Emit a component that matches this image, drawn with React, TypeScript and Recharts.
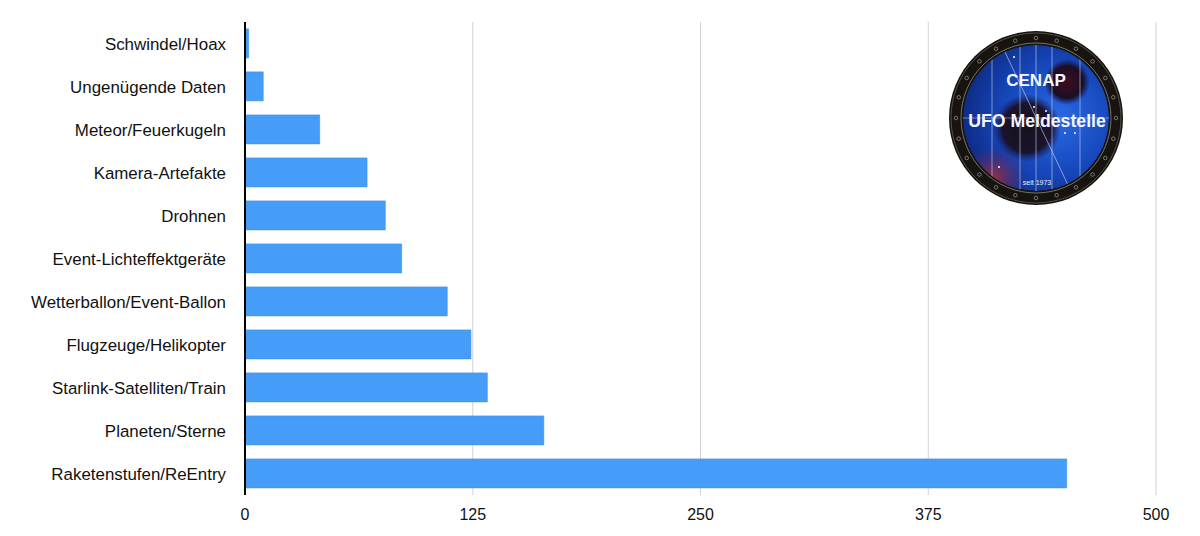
import { BarChart, Bar, XAxis, YAxis, CartesianGrid } from 'recharts';

const categories = [
  'Schwindel/Hoax',
  'Ungenügende Daten',
  'Meteor/Feuerkugeln',
  'Kamera-Artefakte',
  'Drohnen',
  'Event-Lichteffektgeräte',
  'Wetterballon/Event-Ballon',
  'Flugzeuge/Helikopter',
  'Starlink-Satelliten/Train',
  'Planeten/Sterne',
  'Raketenstufen/ReEntry',
];
const reports = [2, 10, 41, 67, 77, 86, 111, 124, 133, 164, 451];
const ticks = [0, 125, 250, 375, 500];

const data = categories.map((name, i) => ({ name, reports: reports[i] }));

const FONT = '"Liberation Sans", Arial, sans-serif';

// decorative badge, top right of the plot
function Logo() {
  const holes = Array.from({ length: 24 }, (_, i) => (i * Math.PI) / 12);
  const stars = [[-22, -61], [-2, -11], [10, -7], [29, 15], [39, 15], [-37, 49]];
  const gridLines = [-44, -16, 0, 16, 44];
  return (
    <svg width={190} height={190} viewBox="-95 -95 190 190" style={{ position: 'absolute', left: 941, top: 23 }}>
      <defs>
        <radialGradient id="sky" cx="65%" cy="50%" r="72%">
          <stop offset="0%" stopColor="#2a6ae6" />
          <stop offset="55%" stopColor="#1545b8" />
          <stop offset="100%" stopColor="#0c2578" />
        </radialGradient>
        <radialGradient id="planetA" cx="50%" cy="50%" r="50%">
          <stop offset="0%" stopColor="#16101c" />
          <stop offset="72%" stopColor="#1a1024" stopOpacity={0.95} />
          <stop offset="100%" stopColor="#1a1a5c" stopOpacity={0} />
        </radialGradient>
        <radialGradient id="planetB" cx="50%" cy="50%" r="50%">
          <stop offset="0%" stopColor="#3a1020" />
          <stop offset="70%" stopColor="#1c0e24" />
          <stop offset="100%" stopColor="#1c0e44" stopOpacity={0} />
        </radialGradient>
        <radialGradient id="glow" cx="50%" cy="50%" r="50%">
          <stop offset="0%" stopColor="#a8303c" stopOpacity={0.85} />
          <stop offset="100%" stopColor="#7a1f50" stopOpacity={0} />
        </radialGradient>
        <clipPath id="face">
          <circle r={73} />
        </clipPath>
      </defs>
      <circle r={87} fill="#17130f" />
      <circle r={85} fill="none" stroke="#8f8a80" strokeWidth={0.5} />
      <circle r={75} fill="none" stroke="#b8b4a8" strokeWidth={0.6} />
      {holes.map((a) => (
        <circle key={a} cx={80 * Math.cos(a)} cy={80 * Math.sin(a)} r={1.8} fill="none" stroke="#b5b0a5" strokeWidth={0.6} />
      ))}
      <g clipPath="url(#face)">
        <circle r={73} fill="url(#sky)" />
        <circle cx={-42} cy={60} r={32} fill="url(#glow)" />
        <circle cx={-9} cy={10} r={34} fill="url(#planetA)" />
        <circle cx={31} cy={-36} r={23} fill="url(#planetB)" />
        {gridLines.map((x) => (
          <line key={x} x1={x} x2={x} y1={-73} y2={73} stroke="#c8d4ee" strokeWidth={0.6} />
        ))}
        <line x1={-73} x2={73} y1={0} y2={0} stroke="#c8d4ee" strokeWidth={0.5} />
        <line x1={-32} y1={-68} x2={32} y2={67} stroke="#d6def2" strokeWidth={0.6} />
        {stars.map(([x, y]) => (
          <circle key={`${x}-${y}`} cx={x} cy={y} r={1} fill="#fff" />
        ))}
      </g>
      <text x={0} y={-32} textAnchor="middle" fontFamily={FONT} fontSize={17} fontWeight={700} fill="#f4f6ff">CENAP</text>
      <text x={1} y={9} textAnchor="middle" fontFamily={FONT} fontSize={17.7} fontWeight={700} fill="#f4f6ff">UFO Meldestelle</text>
      <text x={1} y={67} textAnchor="middle" fontFamily={FONT} fontSize={7} fill="#f0f0f0">seit 1973</text>
    </svg>
  );
}

export default function App() {
  return (
    <div style={{ position: 'absolute', left: 0, top: 0, width: 1200, height: 536, background: '#fff' }}>
      <BarChart
        width={1200}
        height={536}
        layout="vertical"
        data={data}
        barCategoryGap="16%"
        margin={{ top: 22, right: 44, bottom: 0, left: 0 }}
      >
        <CartesianGrid horizontal={false} stroke="#d2d2d2" strokeWidth={1} />
        <XAxis
          type="number"
          domain={[0, 500]}
          ticks={ticks}
          tick={{ fill: '#111', fontSize: 16, fontFamily: FONT }}
          tickLine={false}
          axisLine={false}
          tickMargin={8}
          height={41}
        />
        <YAxis
          type="category"
          dataKey="name"
          width={245}
          interval={0}
          tick={{ fill: '#111', fontSize: 16.9, fontFamily: FONT, dy: 1 }}
          tickLine={false}
          axisLine={{ stroke: '#000', strokeWidth: 2 }}
          tickMargin={13}
        />
        <Bar dataKey="reports" fill="#459df7" stroke="#3f8ee0" strokeWidth={0.6} isAnimationActive={false} />
      </BarChart>
      <Logo />
    </div>
  );
}
